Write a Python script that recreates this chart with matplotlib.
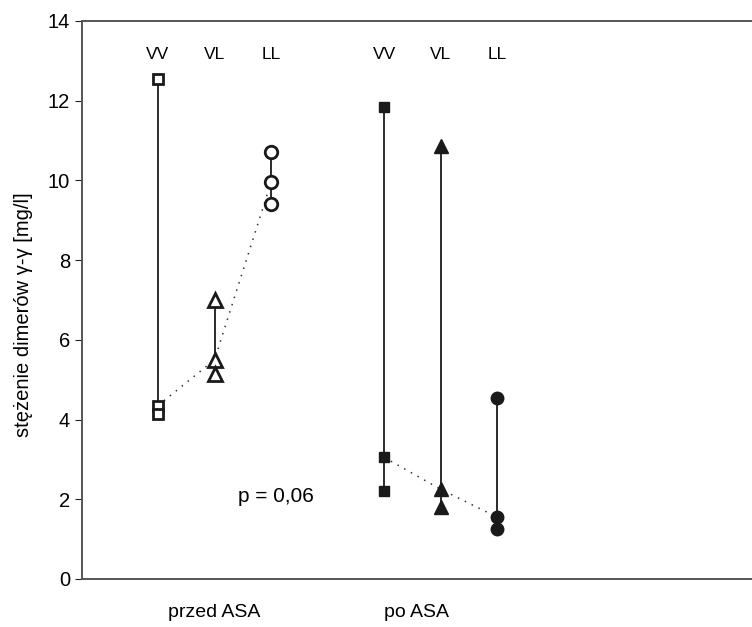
import matplotlib.pyplot as plt

plt.rcParams['font.family'] = ['Liberation Sans', 'DejaVu Sans']

# column labels and x positions
cols = ["VV", "VL", "LL"]
x_before = [1, 2, 3]
x_after = [5, 6, 7]

# values (mg/l)
before_vv = [12.55, 4.35, 4.15]
before_vl = [7.0, 5.5, 5.15]
before_ll = [10.7, 9.95, 9.4]
after_vv = [11.85, 3.05, 2.2]
after_vl = [10.85, 2.25, 1.8]
after_ll = [4.55, 1.55, 1.25]

before = [before_vv, before_vl, before_ll]
after = [after_vv, after_vl, after_ll]
markers = ["s", "^", "o"]
msizes = [7.5, 9.5, 9]

group_labels = ["przed ASA", "po ASA"]
group_x = [2.0, 5.58]
p_text = "p = 0,06"

fig = plt.figure(figsize=(7.52, 6.27), dpi=100)
ax = fig.add_axes([0.109, 0.0766, 0.95, 0.89])

# median connecting dotted lines
med_b = sorted(before_vv)[1], sorted(before_vl)[1], sorted(before_ll)[1]
med_a = sorted(after_vv)[1], sorted(after_vl)[1], sorted(after_ll)[1]
ax.plot(x_before, med_b, ls=(0, (1, 4)), color="#333333", lw=1.1, zorder=1)
ax.plot(x_after, med_a, ls=(0, (1, 4)), color="#333333", lw=1.1, zorder=1)

for i in range(3):
    vals = before[i]
    ax.plot([x_before[i]] * 2, [min(vals), max(vals)], color="#1a1a1a", lw=1.3, zorder=2)
    ax.plot([x_before[i]] * len(vals), vals, ls="none", marker=markers[i],
            ms=msizes[i], mfc="white", mec="#1a1a1a", mew=2, zorder=3)
    vals = after[i]
    ax.plot([x_after[i]] * 2, [min(vals), max(vals)], color="#1a1a1a", lw=1.3, zorder=2)
    ax.plot([x_after[i]] * len(vals), vals, ls="none", marker=markers[i],
            ms=msizes[i], mfc="#1a1a1a", mec="#1a1a1a", mew=1, zorder=3)
    ax.text(x_before[i], 13.15, cols[i], ha="center", va="center", fontsize=12.5)
    ax.text(x_after[i], 13.15, cols[i], ha="center", va="center", fontsize=12.5)

ax.text(2.42, 2.06, p_text, ha="left", va="center", fontsize=15)

for lab, gx in zip(group_labels, group_x):
    ax.text(gx, -0.83, lab, ha="center", va="center", fontsize=14)

ax.set_xlim(-0.345, 12.29)
ax.set_ylim(0, 14)
ax.set_yticks(range(0, 15, 2))
ax.set_xticks([])
ax.set_ylabel("stężenie dimerów γ-γ [mg/l]", fontsize=14.5)
ax.yaxis.set_label_coords(-0.068, 0.473)
ax.tick_params(axis="y", direction="out", length=5, labelsize=14.5, color="#222222")
for s in ["left", "top", "bottom"]:
    ax.spines[s].set_color("#555555")
    ax.spines[s].set_linewidth(1.4)
ax.spines["right"].set_visible(False)

fig.savefig("out.png", dpi=100)
